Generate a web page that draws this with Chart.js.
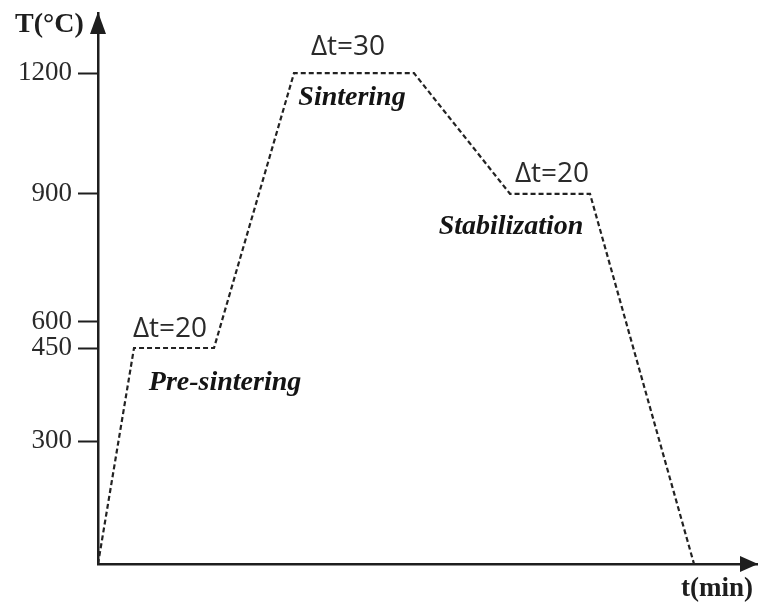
<!DOCTYPE html>
<html>
<head>
<meta charset="utf-8">
<script src="https://cdn.jsdelivr.net/npm/chart.js@4"></script>
<style>
html, body { margin: 0; padding: 0; background: #fff; }
#wrap { width: 758px; height: 608px; }
</style>
</head>
<body>
<div id="wrap"><canvas id="profile"></canvas></div>
<script>
// Heating schedule: time (min) vs temperature (°C)
const timeMin = [0, 9, 29, 49, 79, 103, 123, 149];
const tempC = [0, 450, 450, 1200, 1200, 900, 900, 0];
const tempTicks = [300, 450, 600, 900, 1200];
// the axis in the figure is schematic: where each tick value is drawn
const tickDrawnAt = [300, 528, 592, 905, 1200];
const stageNames = ['Pre-sintering', 'Sintering', 'Stabilization'];
const holdLabels = ['Δt=20', 'Δt=30', 'Δt=20'];

function warp(v) {
    const xs = [0].concat(tempTicks), ys = [0].concat(tickDrawnAt);
    const n = xs.length - 1;
    if (v >= xs[n]) return v - xs[n] + ys[n];
    for (let i = 1; i <= n; i++) {
        if (v <= xs[i]) return ys[i - 1] + (v - xs[i - 1]) * (ys[i] - ys[i - 1]) / (xs[i] - xs[i - 1]);
    }
}

class SchematicScale extends Chart.LinearScale {
    static id = 'schematic';
    static defaults = Chart.LinearScale.defaults;
    getPixelForValue(v) {
        return v === null ? NaN : super.getPixelForValue(warp(v));
    }
}
Chart.register(SchematicScale);

const ink = '#1e1e1e';

// axis arrows, axis titles and stage notes
const decorations = {
    id: 'decorations',
    afterDraw(chart) {
        const {ctx, chartArea: a, scales: {x, y}} = chart;
        ctx.save();
        ctx.fillStyle = ink;
        // arrow heads
        ctx.beginPath();
        ctx.moveTo(a.left, a.top - 1);
        ctx.lineTo(a.left - 8, a.top + 21);
        ctx.lineTo(a.left + 8, a.top + 21);
        ctx.closePath();
        ctx.fill();
        ctx.beginPath();
        ctx.moveTo(a.right, a.bottom);
        ctx.lineTo(a.right - 18, a.bottom - 8);
        ctx.lineTo(a.right - 18, a.bottom + 8);
        ctx.closePath();
        ctx.fill();

        // axis titles
        ctx.font = 'bold 28px "Liberation Serif"';
        ctx.textBaseline = 'alphabetic';
        ctx.textAlign = 'left';
        ctx.fillText('T(°C)', 15, 32);
        ctx.textAlign = 'right';
        ctx.font = 'bold 27px "Liberation Serif"';
        ctx.fillText('t(min)', a.right - 5, 596);

        // notes around each hold
        const holdOffsets = [[-4, -11], [-6, -18], [2, -12]];
        const nameOffsets = [[51, 42], [-2, 32], [-39, 40]];
        ctx.textAlign = 'center';
        for (let k = 0; k < 3; k++) {
            const i = 1 + 2 * k;
            const mx = (x.getPixelForValue(timeMin[i]) + x.getPixelForValue(timeMin[i + 1])) / 2;
            const my = y.getPixelForValue(tempC[i]);
            ctx.fillStyle = '#2a2a2a';
            ctx.font = '28px "Open Sans"';
            ctx.fillText(holdLabels[k], mx + holdOffsets[k][0], my + holdOffsets[k][1]);
            ctx.fillStyle = '#141414';
            ctx.font = 'italic bold 28px "Liberation Serif"';
            ctx.fillText(stageNames[k], mx + nameOffsets[k][0], my + nameOffsets[k][1]);
        }
        ctx.restore();
    }
};

document.addEventListener('DOMContentLoaded', function() {
    const ctx = document.getElementById('profile').getContext('2d');
    new Chart(ctx, {
        type: 'line',
        data: {
            datasets: [{
                data: timeMin.map((t, i) => ({x: t, y: tempC[i]})),
                borderColor: '#222',
                borderWidth: 2.2,
                borderDash: [5, 3],
                pointRadius: 0,
                tension: 0,
                fill: false
            }]
        },
        options: {
            responsive: true,
            maintainAspectRatio: false,
            animation: false,
            layout: {padding: {top: 13, right: 0, left: 0, bottom: 0}},
            plugins: {legend: {display: false}, tooltip: {enabled: false}},
            scales: {
                x: {
                    type: 'linear',
                    min: 0,
                    max: 165,
                    ticks: {display: false},
                    grid: {display: false},
                    border: {display: true, color: ink, width: 2.5},
                    afterFit(s) { s.height = 44; s.paddingLeft = 0; s.paddingRight = 0; }
                },
                y: {
                    type: 'schematic',
                    min: 0,
                    max: 1347,
                    afterBuildTicks(s) { s.ticks = tempTicks.map(v => ({value: v})); },
                    ticks: {
                        color: '#2a2a2a',
                        padding: 6,
                        font: {family: '"Liberation Serif"', size: 27},
                        callback: v => String(v)
                    },
                    grid: {
                        drawOnChartArea: false,
                        drawTicks: true,
                        tickLength: 20,
                        tickWidth: 2,
                        tickColor: ink
                    },
                    border: {display: true, color: ink, width: 2.5},
                    afterFit(s) { s.width = 98; s.paddingTop = 0; s.paddingBottom = 0; }
                }
            }
        },
        plugins: [decorations]
    });
});
</script>
</body>
</html>
